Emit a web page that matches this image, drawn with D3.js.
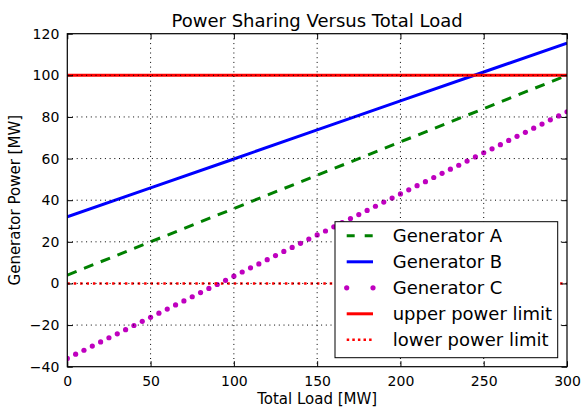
<!DOCTYPE html>
<html>
<head>
<meta charset="utf-8">
<script src="https://cdn.jsdelivr.net/npm/d3@7"></script>
<style>
  html, body { margin: 0; padding: 0; background: #fff; }
  svg { display: block; font-family: "DejaVu Sans", sans-serif; }
</style>
</head>
<body>
<svg id="chart" width="582" height="408"></svg>
<script>
// ---- data ----
const titleText = "Power Sharing Versus Total Load";
const xLabelText = "Total Load [MW]";
const yLabelText = "Generator Power [MW]";

const xTicks = [0, 50, 100, 150, 200, 250, 300];
const yTicks = [-40, -20, 0, 20, 40, 60, 80, 100, 120];

// load points for the straight generator lines
const loadsAB = [0, 50, 100, 150, 200, 250, 300];
const genA = [4.0, 20.0, 36.0, 52.0, 68.0, 84.0, 100.0];
const genB = [32.0, 45.9, 59.8, 73.8, 87.7, 101.6, 115.5];

// load points for generator C markers
const loadsC = [0, 5, 10, 15, 20, 25, 30, 35, 40, 45, 50, 55, 60, 65, 70, 75, 80, 85, 90, 95,
  100, 105, 110, 115, 120, 125, 130, 135, 140, 145, 150, 155, 160, 165, 170, 175, 180, 185, 190, 195,
  200, 205, 210, 215, 220, 225, 230, 235, 240, 245, 250, 255, 260, 265, 270, 275, 280, 285, 290, 295, 300];
const genC = [-36.0, -34.0, -32.1, -30.1, -28.1, -26.1, -24.2, -22.2, -20.2, -18.2, -16.3, -14.3, -12.3, -10.3, -8.4, -6.4, -4.4, -2.4, -0.5, 1.5,
  3.5, 5.5, 7.5, 9.4, 11.4, 13.4, 15.4, 17.3, 19.3, 21.3, 23.3, 25.2, 27.2, 29.2, 31.2, 33.1, 35.1, 37.1, 39.1, 41.0,
  43.0, 45.0, 47.0, 48.9, 50.9, 52.9, 54.9, 56.8, 58.8, 60.8, 62.8, 64.7, 66.7, 68.7, 70.7, 72.6, 74.6, 76.6, 78.6, 80.5, 82.5];

const limitLoads = [0, 300];
const upperLimit = [100, 100];
const lowerLimit = [0, 0];

const seriesNames = ["Generator A", "Generator B", "Generator C", "upper power limit", "lower power limit"];
const seriesColors = ["#008000", "#0000ff", "#bf00bf", "#ff0000", "#ff0000"];

// ---- layout ----
const svg = d3.select("#chart");
svg.append("rect").attr("width", 582).attr("height", 408).attr("fill", "#fff");

const L = 67.3, R = 567, T = 33.7, B = 366.7;
const x = d3.scaleLinear().domain([0, 300]).range([L, R]);
const y = d3.scaleLinear().domain([-40, 120]).range([B, T]);

const plot = svg.append("g");
const clipId = "clip";
svg.append("defs").append("clipPath").attr("id", clipId)
  .append("rect").attr("x", L).attr("y", T).attr("width", R - L).attr("height", B - T);

const lineGen = (xs) => d3.line().x((d, i) => x(xs[i])).y(d => y(d));

const data = plot.append("g").attr("clip-path", `url(#${clipId})`);

// Generator A (dashed green)
data.append("path").attr("d", lineGen(loadsAB)(genA))
  .attr("fill", "none").attr("stroke", seriesColors[0]).attr("stroke-width", 3)
  .attr("stroke-dasharray", "10,8");
// Generator B (solid blue)
data.append("path").attr("d", lineGen(loadsAB)(genB))
  .attr("fill", "none").attr("stroke", seriesColors[1]).attr("stroke-width", 3);
// Generator C markers
data.selectAll("circle.c").data(genC).join("circle").attr("class", "c")
  .attr("cx", (d, i) => x(loadsC[i])).attr("cy", d => y(d)).attr("r", 2.6)
  .attr("fill", seriesColors[2]);
// upper limit
data.append("path").attr("d", lineGen(limitLoads)(upperLimit))
  .attr("fill", "none").attr("stroke", seriesColors[3]).attr("stroke-width", 3);
// lower limit
data.append("path").attr("d", lineGen(limitLoads)(lowerLimit))
  .attr("fill", "none").attr("stroke", seriesColors[4]).attr("stroke-width", 2.5)
  .attr("stroke-dasharray", "2.5,3.9");

// grid (drawn above lines like classic matplotlib)
const grid = plot.append("g");
xTicks.slice(1, -1).forEach(t => {
  grid.append("line").attr("x1", x(t)).attr("x2", x(t)).attr("y1", T).attr("y2", B)
    .attr("stroke", "#000").attr("stroke-width", 1).attr("stroke-dasharray", "1,3.7");
});
yTicks.slice(1, -1).forEach(t => {
  grid.append("line").attr("y1", y(t)).attr("y2", y(t)).attr("x1", L).attr("x2", R)
    .attr("stroke", "#000").attr("stroke-width", 1).attr("stroke-dasharray", "1,3.7");
});

// axes with inward ticks
const tickLen = 5.5;
const xAxisB = d3.axisBottom(x).tickValues(xTicks).tickSizeInner(-tickLen).tickSizeOuter(0).tickPadding(9);
const xAxisT = d3.axisTop(x).tickValues(xTicks).tickSizeInner(-tickLen).tickSizeOuter(0).tickFormat("");
const yAxisL = d3.axisLeft(y).tickValues(yTicks).tickSizeInner(-tickLen).tickSizeOuter(0).tickPadding(8);
const yAxisR = d3.axisRight(y).tickValues(yTicks).tickSizeInner(-tickLen).tickSizeOuter(0).tickFormat("");

const styleAxis = g => {
  g.select(".domain").remove();
  g.selectAll(".tick line").attr("stroke", "#000").attr("stroke-width", 1);
  g.selectAll(".tick text").attr("fill", "#000").style("font-size", "14px")
    .style("font-family", "'DejaVu Sans', sans-serif");
};
svg.append("g").attr("transform", `translate(0,${B})`).call(xAxisB).call(styleAxis);
svg.append("g").attr("transform", `translate(0,${T})`).call(xAxisT).call(styleAxis);
svg.append("g").attr("transform", `translate(${L},0)`).call(yAxisL).call(styleAxis);
svg.append("g").attr("transform", `translate(${R},0)`).call(yAxisR).call(styleAxis);

// frame
svg.append("rect").attr("x", L).attr("y", T).attr("width", R - L).attr("height", B - T)
  .attr("fill", "none").attr("stroke", "#000").attr("stroke-width", 1.2);

// title & labels
svg.append("text").attr("x", (L + R) / 2).attr("y", 27).attr("text-anchor", "middle")
  .style("font-size", "18px").text(titleText);
svg.append("text").attr("x", (L + R) / 2).attr("y", 404).attr("text-anchor", "middle")
  .style("font-size", "15px").text(xLabelText);
svg.append("text").attr("transform", `translate(20,${(T + B) / 2}) rotate(-90)`)
  .attr("text-anchor", "middle").style("font-size", "15px").text(yLabelText);

// legend
const lg = svg.append("g");
const lx0 = 335, ly0 = 221.7, lw = 222.7, lh = 136;
lg.append("rect").attr("x", lx0).attr("y", ly0).attr("width", lw).attr("height", lh)
  .attr("fill", "#fff").attr("stroke", "#000").attr("stroke-width", 1);
const hx1 = 346.7, hx2 = 373, tx = 392.7;
seriesNames.forEach((name, i) => {
  const cy = 235.8 + i * 26;
  if (i === 2) {
    [hx1, hx2].forEach(px => lg.append("circle").attr("cx", px).attr("cy", cy).attr("r", 2.6)
      .attr("fill", seriesColors[i]));
  } else {
    const ln = lg.append("line").attr("x1", hx1).attr("x2", hx2).attr("y1", cy).attr("y2", cy)
      .attr("stroke", seriesColors[i]).attr("stroke-width", i === 4 ? 2.5 : 3);
    if (i === 0) ln.attr("stroke-dasharray", "8,10");
    if (i === 4) ln.attr("stroke-dasharray", "2.5,3.1");
  }
  lg.append("text").attr("x", tx).attr("y", cy + 6.5).style("font-size", "18px").text(name);
});
</script>
</body>
</html>
